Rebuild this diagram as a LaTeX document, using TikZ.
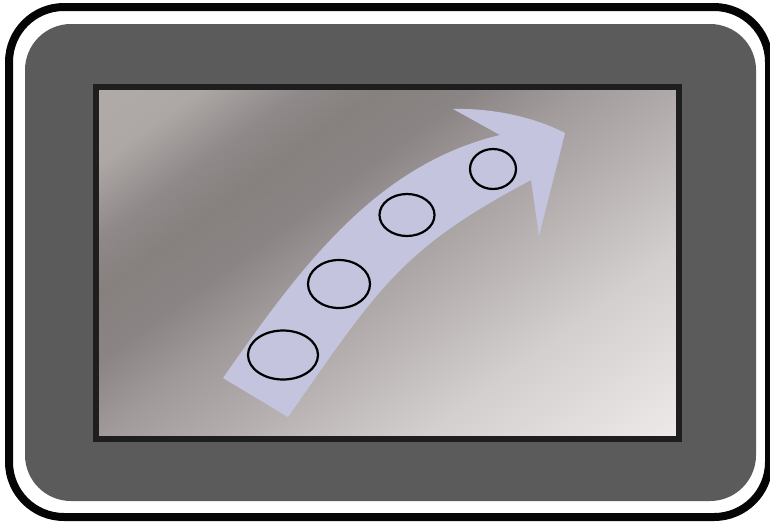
\documentclass[tikz,border=0pt]{standalone}
\usetikzlibrary{calc}
\definecolor{frameblack}{HTML}{050505}
\definecolor{bezel}{HTML}{5B5B5B}
\definecolor{screenedge}{HTML}{1E1E1E}
\definecolor{arrowfill}{HTML}{C4C4DE}
\definecolor{sA}{HTML}{B6B0AF}
\definecolor{sB}{HTML}{ADA7A6}
\definecolor{sC}{HTML}{8F8A89}
\definecolor{sD}{HTML}{86817F}
\definecolor{sE}{HTML}{8A8584}
\definecolor{sF}{HTML}{A09B9A}
\definecolor{sG}{HTML}{B0ABAA}
\definecolor{sH}{HTML}{D3CFCE}
\definecolor{sI}{HTML}{EEEAE9}
\definecolor{sJ}{HTML}{F0ECEB}
% the path's box covers 25bp..75bp of the shading
\pgfdeclarehorizontalshading{screenshade}{100bp}{%
  color(0bp)=(sA); color(25bp)=(sA); color(36.88bp)=(sB); color(40.63bp)=(sC);
  color(43.44bp)=(sD); color(46.88bp)=(sE); color(50.69bp)=(sF);
  color(54.56bp)=(sG); color(62.5bp)=(sH); color(72.06bp)=(sI);
  color(75bp)=(sJ); color(100bp)=(sJ)}
\tikzset{
  outerframe/.style={draw=frameblack, line width=8pt, rounded corners=55pt},
  bezelbox/.style={fill=bezel, rounded corners=46pt},
  screenborder/.style={draw=screenedge, line width=6pt},
  arrowshape/.style={fill=arrowfill},
  dot/.style={draw=black, line width=2.2pt}
}
\begin{document}
\begin{tikzpicture}[x=1pt, y=-1pt]
\useasboundingbox (0,0) rectangle (770,523);
\fill[white] (0,0) rectangle (770,523);
% outer frame
\draw[outerframe] (9,7) rectangle (769,517);
% bezel
\fill[bezelbox] (25,24) rectangle (756,501);
% screen gradient
\begin{scope}
  \clip (96,87) rectangle (679,439);
  \shade[shading=screenshade, transform canvas={rotate around={-54:(0,0)}}]
    (0,-700) rectangle (800,400);
\end{scope}
\draw[screenborder] (96,87) rectangle (679,439);
% arrow
\coordinate (tailL) at (223,378);
\coordinate (tailR) at (288,417);
\coordinate (notchU) at (500,135);
\coordinate (backTop) at (453,109);
\coordinate (tip) at (565,133);
\coordinate (barb) at (539,236);
\coordinate (notchL) at (531,180);
\fill[arrowshape] (tailL)
  .. controls (300,268) and (375,165) .. (notchU)
  -- (backTop)
  .. controls (490,108) and (532,116) .. (tip)
  -- (barb) -- (notchL)
  .. controls (403,248) and (380,285) .. (tailR)
  -- cycle;
% circles
\draw[dot] (283,355) ellipse [x radius=35, y radius=24.5];
\draw[dot] (339,284) ellipse [x radius=31, y radius=24];
\draw[dot] (407,215) ellipse [x radius=27.5, y radius=21];
\draw[dot] (493,169) ellipse [x radius=23, y radius=20];
\end{tikzpicture}
\end{document}
